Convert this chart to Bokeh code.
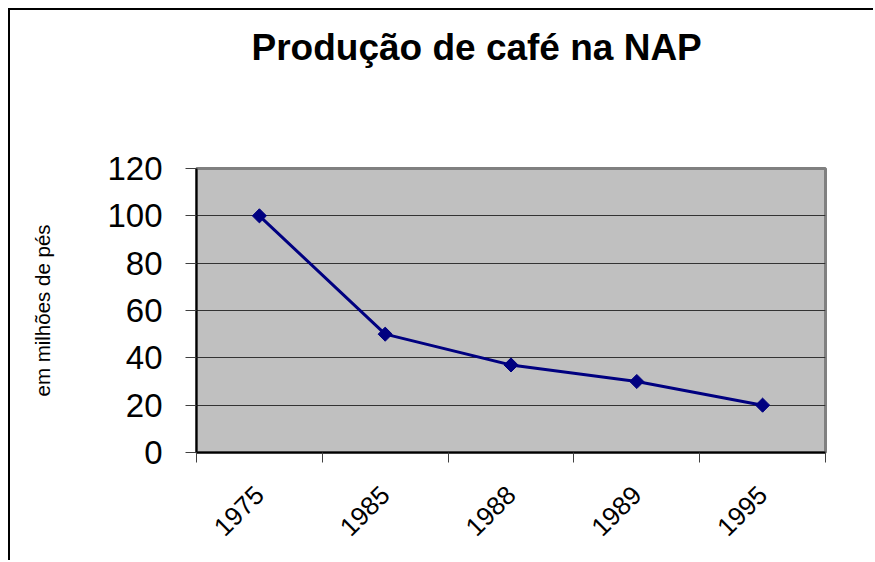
import math
from bokeh.plotting import figure
from bokeh.models import Range1d, FixedTicker, ColumnDataSource
from bokeh.embed import file_html
from bokeh.resources import INLINE

title_text = "Produção de café na NAP"
y_title = "em milhões de pés"
years = ["1975", "1985", "1988", "1989", "1995"]
production = [100, 50, 37, 30, 20]
y_ticks = [0, 20, 40, 60, 80, 100, 120]

xpos = [i + 0.5 for i in range(len(years))]
src = ColumnDataSource(dict(x=xpos, y=production, year=years))

p = figure(width=865, height=552, output_backend="svg", toolbar_location=None,
           x_range=Range1d(0, len(years)), y_range=Range1d(0, 120),
           min_border_left=186, min_border_right=50, min_border_top=0,
           min_border_bottom=110)
p.styles = {"margin-left": "8px", "margin-top": "8px",
            "border-top": "2px solid black", "border-left": "2px solid black"}

p.background_fill_color = "#C0C0C0"
p.border_fill_color = "white"
p.outline_line_color = "#808080"
p.outline_line_width = 3

p.title.text = title_text
p.title.text_font = "Liberation Sans"
p.title.text_font_size = "37px"
p.title.text_font_style = "bold"
p.title.text_color = "black"
p.title.align = "left"
p.title.vertical_align = "top"
p.title.offset = 55
p.title.standoff = 32
p.title.padding = dict(left=0, right=0, top=0, bottom=83)

# x axis
p.xaxis.ticker = FixedTicker(ticks=xpos, minor_ticks=list(range(len(years) + 1)))
p.xaxis.major_label_overrides = {x: y for x, y in zip(xpos, years)}
p.xaxis.major_tick_line_color = None
p.xaxis.minor_tick_line_color = "#404040"
p.xaxis.minor_tick_out = 10
p.xaxis.minor_tick_in = 0
p.xaxis.axis_line_color = "black"
p.xaxis.axis_line_width = 2
p.xaxis.major_label_orientation = math.pi / 4
p.xaxis.major_label_text_font = "Liberation Sans"
p.xaxis.major_label_text_font_size = "26px"
p.xaxis.major_label_text_color = "black"
p.xaxis.major_label_standoff = 28

# y axis
p.yaxis.ticker = FixedTicker(ticks=y_ticks)
p.yaxis.minor_tick_line_color = None
p.yaxis.major_tick_line_color = "#404040"
p.yaxis.major_tick_out = 11
p.yaxis.major_tick_in = 0
p.yaxis.axis_line_color = "black"
p.yaxis.axis_line_width = 2
p.yaxis.major_label_text_font = "Liberation Sans"
p.yaxis.major_label_text_font_size = "33px"
p.yaxis.major_label_text_color = "black"
p.yaxis.major_label_standoff = 23
p.yaxis.axis_label = y_title
p.yaxis.axis_label_text_font = "Liberation Sans"
p.yaxis.axis_label_text_font_size = "20.5px"
p.yaxis.axis_label_text_font_style = "normal"
p.yaxis.axis_label_text_color = "black"
p.yaxis.axis_label_standoff = 50

p.xgrid.grid_line_color = None
p.ygrid.grid_line_color = "#333333"
p.ygrid.grid_line_width = 1

p.line("x", "y", source=src, line_color="#000080", line_width=3)
p.scatter("x", "y", source=src, marker="square", angle=math.pi / 4, size=10,
          fill_color="#000080", line_color="#000080")

open("out.html", "w").write(file_html(p, INLINE))
